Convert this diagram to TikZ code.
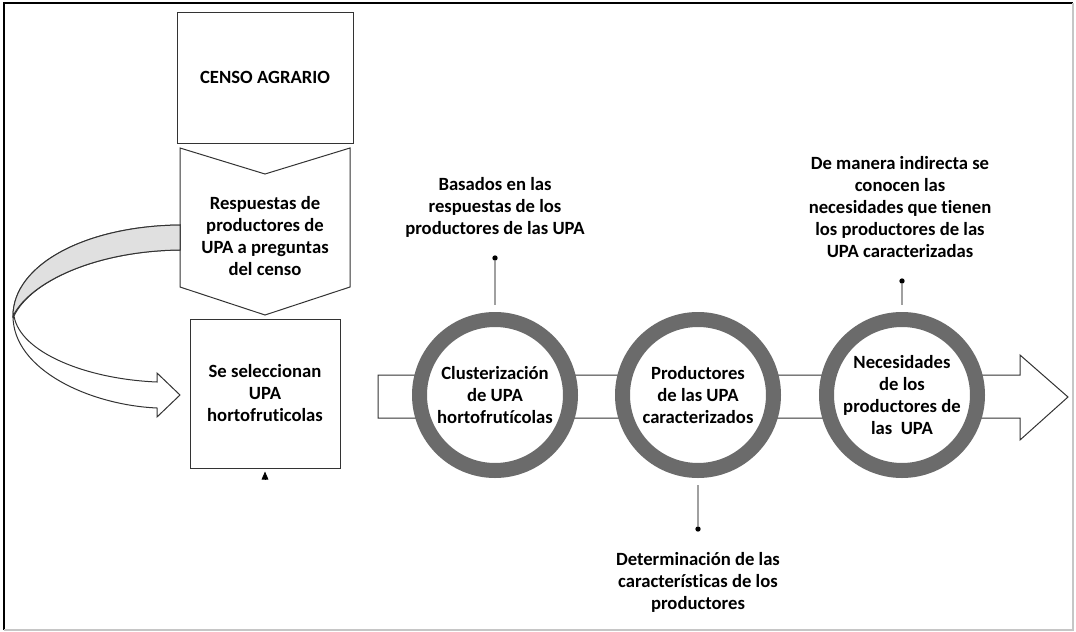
\documentclass[tikz,border=0pt]{standalone}
\usepackage{fontspec}
\setmainfont{Carlito}[Ligatures=NoCommon]
\usepackage{xcolor}
\usepackage{tikz}
\usetikzlibrary{positioning,arrows.meta}
\definecolor{ringgray}{HTML}{6B6B6B}
\definecolor{leadgray}{HTML}{A0A0A0}
\definecolor{bandgray}{HTML}{E0E0E0}

\begin{document}
\begin{tikzpicture}[x=0.75pt, y=-0.75pt,
  boxnode/.style={rectangle, draw=black!80, line width=0.75pt, align=center, font=\bfseries\fontsize{14}{16.5}\selectfont},
  ringnode/.style={circle, draw=ringgray, line width=11.25pt, fill=white, minimum size=113.25pt, inner sep=0pt, align=center, font=\bfseries\fontsize{14}{16.5}\selectfont},
  dotnode/.style={circle, fill=black, inner sep=0pt, minimum size=4pt},
  labelnode/.style={align=center, font=\bfseries\fontsize{14}{16.5}\selectfont},
  leader/.style={draw=leadgray, line width=1pt, shorten <=5.6pt}]

\useasboundingbox (0,0) rectangle (1076,632);
\draw[line width=1.5pt] (4,630) -- (4,3) -- (1073,3);
\draw[gray!45, line width=1.5pt] (1073,3) -- (1073,630) -- (4,630);

\node[boxnode, minimum width=132pt, minimum height=98.25pt] at (265,77.5) (censo) {CENSO AGRARIO};
\draw[black!80, line width=0.75pt, fill=white] (180,148) -- (265,174) -- (350,148) -- (350,287) -- (265,315) -- (180,287) -- cycle;
\node[labelnode] at (265,236) (resp) {Respuestas de\\productores de\\UPA a preguntas\\del censo};
\node[boxnode, minimum width=112.5pt, minimum height=111.75pt] at (265,393.5) (selec) {Se seleccionan\\UPA\\hortofruticolas};

\draw[black!80, line width=0.75pt, fill=white] (180,225) .. controls (85,226) and (13,265) .. (13,316) .. controls (13,370) and (90,405) .. (157,408) -- (157,417) -- (180,395) -- (157,373) -- (157,382) .. controls (85,379) and (20,352) .. (14,316) .. controls (30,282) and (95,251) .. (180,250) -- cycle;
\draw[black!80, line width=0.75pt, fill=bandgray] (180,225) .. controls (85,226) and (13,265) .. (13,316) .. controls (30,282) and (95,251) .. (180,250) -- cycle;

\coordinate (stub) at (265,479);
\draw[black, line width=0.6pt, -{Triangle[width=5pt,length=6pt]}, shorten >=2.25pt] (stub) -- (selec.south);

\draw[black!80, line width=0.75pt, fill=white] (378,375) -- (1020,375) -- (1020,355) -- (1068,397) -- (1020,440) -- (1020,418) -- (378,418) -- cycle;

\node[ringnode] at (495,395) (c1) {Clusterización\\de UPA\\hortofrutícolas};
\node[ringnode] at (698,395) (c2) {Productores\\de las UPA\\caracterizados};
\node[ringnode] at (902,395) (c3) {Necesidades\\de los\\productores de\\las~ UPA};

\node[dotnode] at (495,258) (d1) {};
\node[dotnode] at (698,529) (d2) {};
\node[dotnode] at (902,281) (d3) {};
\draw[leader] (c1.north) -- (d1);
\draw[leader] (c2.south) -- (d2);
\draw[leader] (c3.north) -- (d3);

\node[labelnode] at (495,207) (l1) {Basados en las\\respuestas de los\\productores de las UPA};
\node[labelnode] at (698,582) (l2) {Determinación de las\\características de los\\productores};
\node[labelnode] at (900,207) (l3) {De manera indirecta se\\conocen las\\necesidades que tienen\\los productores de las\\UPA caracterizadas};

\end{tikzpicture}
\end{document}
